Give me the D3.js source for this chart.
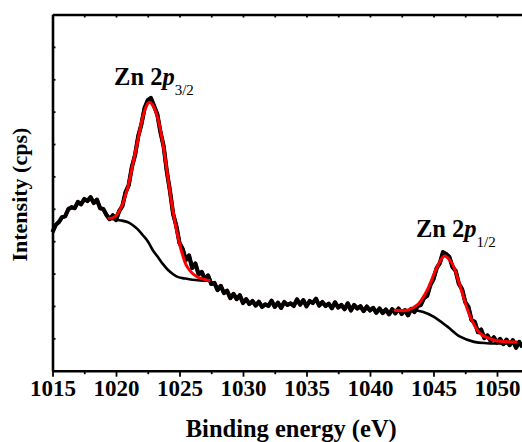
<!DOCTYPE html>
<html>
<head>
<meta charset="utf-8">
<script src="https://cdn.jsdelivr.net/npm/d3@7/dist/d3.min.js"></script>
<style>
  html, body { margin: 0; padding: 0; background: #fff; }
  svg { display: block; font-family: "Liberation Serif", "Times New Roman", serif; }
</style>
</head>
<body>
<div id="chart"></div>
<script>
// raw Zn 2p spectrum, instrument grid starts at 1015 eV with a 0.25 eV step
var rawStart = 1015, rawStep = 0.25;
var rawCounts = [
  428, 450, 459, 474, 477, 499, 505, 502, 521, 514, 530, 524, 536, 518, 528, 502,
  499, 481, 468, 480, 465, 493, 508, 551, 573, 629, 666, 724, 761, 811, 835, 842,
  817, 792, 737, 693, 616, 555, 484, 447, 394, 376, 342, 356, 317, 331, 298, 305,
  283, 294, 268, 271, 249, 262, 240, 247, 224, 237, 221, 233, 209, 221, 206, 215,
  201, 213, 197, 205, 200, 216, 197, 210, 194, 212, 203, 208, 200, 220, 204, 218,
  199, 215, 209, 222, 201, 212, 200, 207, 193, 211, 195, 203, 190, 208, 186, 203,
  192, 199, 184, 198, 186, 194, 179, 192, 178, 189, 174, 190, 177, 192, 175, 187,
  171, 191, 181, 200, 203, 224, 231, 264, 283, 317, 332, 366, 360, 351, 320, 308,
  268, 252, 212, 197, 156, 151, 119, 127, 101, 109, 92, 103, 87, 98, 82, 96,
  79, 94, 71, 89, 73
];

// fitted envelope and background, Zn 2p3/2
var fit32Energy = [1019.35, 1019.9, 1020.42, 1020.94, 1021.33, 1021.72, 1022.11, 1022.5, 1022.67,
                   1022.89, 1023.26, 1023.65, 1024.04, 1024.43, 1024.82, 1025.21, 1025.6, 1026.38, 1027.42];
var fit32 = [470, 475, 506, 568, 640, 712, 784, 825, 829, 820, 784, 712, 609, 506, 424, 362, 321, 290, 278];
var bg32Energy = [1019.35, 1019.9, 1020.4, 1020.9, 1021.3, 1021.7, 1022.1, 1022.5, 1022.9,
                  1023.3, 1023.7, 1024.1, 1024.5, 1024.9, 1025.4, 1026.0, 1026.6, 1027.42];
var bg32 = [470, 467, 464, 459, 450, 437, 419, 400, 372, 351, 329, 311, 298, 289, 285, 281, 279, 278];

// fitted envelope and background, Zn 2p1/2
var fit12Energy = [1041.9, 1042.95, 1043.73, 1044.51, 1045.29, 1045.86, 1046.46, 1047.11,
                   1047.89, 1048.67, 1049.72, 1051.02, 1051.6];
var fit12 = [187, 187, 203, 249, 321, 354, 331, 259, 167, 115, 95, 89, 89];
var bg12Energy = [1041.9, 1042.9, 1043.6, 1044.2, 1045.0, 1046.1, 1047.1, 1048.2, 1049.2, 1051.6];
var bg12 = [187, 184, 186, 181, 167, 136, 105, 89, 85, 84];

var xMajor = [1015, 1020, 1025, 1030, 1035, 1040, 1045, 1050];
var xMinor = [1017.5, 1022.5, 1027.5, 1032.5, 1037.5, 1042.5, 1047.5, 1052.5];
var yTicks = [100, 200, 300, 400, 500, 600, 700, 800, 900, 1000];

var peakLabels = [
  { energy: 1019.85, counts: 882, sub: '3/2' },
  { energy: 1043.62, counts: 413, sub: '1/2' }
];

var W = 522, H = 442,
    margin = { left: 52.5, top: 14.5, right: 0, bottom: 71.3 },
    plotRight = 530;

var x = d3.scaleLinear().domain([1015, 1052.6]).range([margin.left, plotRight]);
var y = d3.scaleLinear().domain([0, 1100]).range([H - margin.bottom, margin.top]);

var svg = d3.select('#chart').append('svg')
    .attr('width', W)
    .attr('height', H);

var raw = rawCounts.map(function(c, i){ return [rawStart + i * rawStep, c]; });
var zip = function(es, cs){ return es.map(function(e, i){ return [e, cs[i]]; }); };

var line = d3.line()
    .x(function(d){ return x(d[0]); })
    .y(function(d){ return y(d[1]); });
var smooth = d3.line()
    .curve(d3.curveCatmullRom.alpha(0.5))
    .x(function(d){ return x(d[0]); })
    .y(function(d){ return y(d[1]); });

// raw data: heavy black trace with a faint dark red rim
svg.append('path').datum(raw)
    .attr('d', line)
    .attr('fill', 'none')
    .attr('stroke', '#2a0000')
    .attr('stroke-width', 4.2)
    .attr('stroke-linejoin', 'round');
svg.append('path').datum(raw)
    .attr('d', line)
    .attr('fill', 'none')
    .attr('stroke', '#000')
    .attr('stroke-width', 3.6)
    .attr('stroke-linejoin', 'round');

// backgrounds
[zip(bg32Energy, bg32), zip(bg12Energy, bg12)].forEach(function(pts){
    svg.append('path').datum(pts)
        .attr('d', smooth)
        .attr('fill', 'none')
        .attr('stroke', '#000')
        .attr('stroke-width', 2.6);
});
// fits
[zip(fit32Energy, fit32), zip(fit12Energy, fit12)].forEach(function(pts){
    svg.append('path').datum(pts)
        .attr('d', smooth)
        .attr('fill', 'none')
        .attr('stroke', '#ff0000')
        .attr('stroke-width', 3);
});

// axes
var bottom = svg.append('g')
    .attr('transform', 'translate(0,' + y(0) + ')')
    .call(d3.axisBottom(x).tickValues(xMajor).tickSizeInner(6).tickSizeOuter(0).tickPadding(3).tickFormat(d3.format('d')));
bottom.selectAll('.tick text')
    .attr('font-size', 23)
    .attr('font-weight', 'bold')
    .attr('font-family', '"Liberation Serif", serif')
    .attr('fill', '#000');
svg.append('g')
    .attr('transform', 'translate(0,' + y(0) + ')')
    .call(d3.axisBottom(x).tickValues(xMinor).tickSize(3.5).tickFormat(''))
    .select('.domain').remove();

svg.append('g')
    .attr('transform', 'translate(0,' + y(1100) + ')')
    .call(d3.axisTop(x).tickValues(xMajor.concat(xMinor)).tickSizeInner(-3).tickSizeOuter(0).tickFormat(''));

svg.append('g')
    .attr('transform', 'translate(' + margin.left + ',0)')
    .call(d3.axisLeft(y).tickValues(yTicks).tickSizeInner(-3).tickSizeOuter(0).tickFormat(''));

svg.selectAll('.domain').attr('stroke', '#000').attr('stroke-width', 2.6);
svg.selectAll('.tick line').attr('stroke', '#000').attr('stroke-width', 1.8);

// axis titles
svg.append('text')
    .attr('x', (margin.left + plotRight) / 2)
    .attr('y', 437)
    .attr('text-anchor', 'middle')
    .attr('font-size', 24.5)
    .attr('font-weight', 'bold')
    .text('Binding energy (eV)');

svg.append('text')
    .attr('transform', 'translate(27,' + ((y(0) + y(1100)) / 2 + 2) + ') rotate(-90)')
    .attr('text-anchor', 'middle')
    .attr('font-size', 22)
    .attr('font-weight', 'bold')
    .text('Intensity (cps)');

// peak labels
peakLabels.forEach(function(p){
    var t = svg.append('text')
        .attr('x', x(p.energy))
        .attr('y', y(p.counts))
        .attr('font-size', 24.5)
        .attr('font-weight', 'bold');
    t.append('tspan').text('Zn 2');
    t.append('tspan').attr('font-style', 'italic').text('p');
    t.append('tspan').attr('font-size', 15).attr('font-weight', 'normal').attr('dy', 10).text(p.sub);
});
</script>
</body>
</html>
